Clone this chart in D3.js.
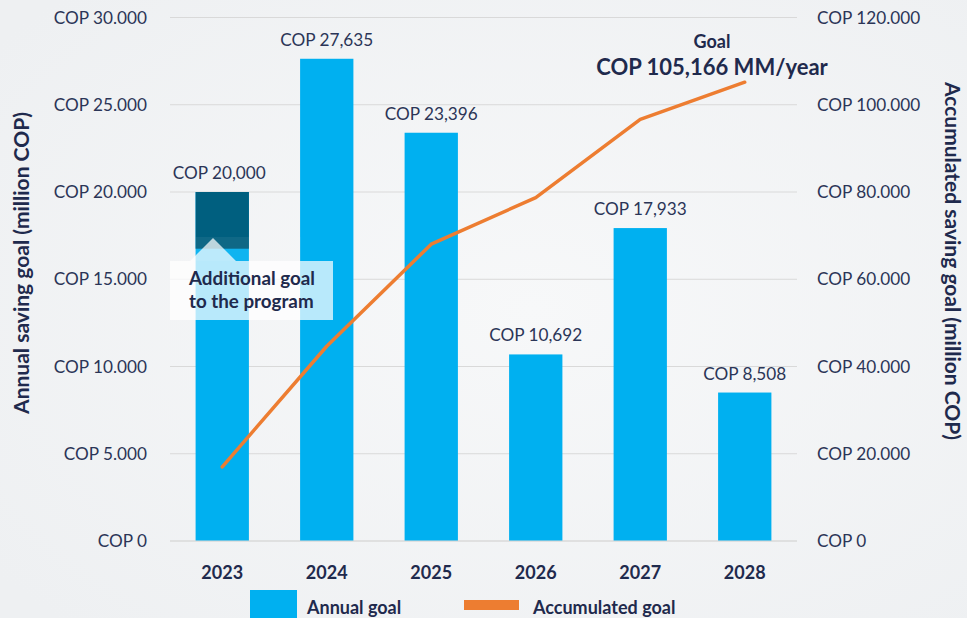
<!DOCTYPE html>
<html><head><meta charset="utf-8">
<script src="https://cdn.jsdelivr.net/npm/d3@7/dist/d3.min.js"></script>
<style>
html,body{margin:0;padding:0;background:#f2f3f5;}
svg{display:block;font-family:Lato, "Open Sans", sans-serif;}
</style></head><body>
<svg id="chart" width="967" height="618"></svg>
<script>
const years = ["2023","2024","2025","2026","2027","2028"];
const annualGoal = [20000, 27635, 23396, 10692, 17933, 8508];
const baseGoal2023 = 16750;
const accumulatedGoal = [17002, 44637, 68033, 78725, 96658, 105166];
const leftTicks = [0, 5000, 10000, 15000, 20000, 25000, 30000];
const rightTicks = [0, 20000, 40000, 60000, 80000, 100000, 120000];
const barLabels = ["COP 20,000","COP 27,635","COP 23,396","COP 10,692","COP 17,933","COP 8,508"];

const W = 967, H = 618;
const svg = d3.select("#chart");
const navy = "#1f2a4d", txt = "#2b3557";

// background
const defs = svg.append("defs");
const rg = defs.append("radialGradient").attr("id","bg").attr("cx","0.55").attr("cy","0.5").attr("r","0.7");
rg.append("stop").attr("offset","0").attr("stop-color","#f7f8f9");
rg.append("stop").attr("offset","1").attr("stop-color","#eef0f2");
svg.append("rect").attr("width",W).attr("height",H).attr("fill","url(#bg)");

const x = d3.scaleBand().domain(years).range([170, 797]).paddingInner(0.49).paddingOuter(0.245);
const yL = d3.scaleLinear().domain([0, 30000]).range([541, 17.5]);
const yR = d3.scaleLinear().domain([0, 120000]).range([541, 17.5]);

// gridlines
svg.append("g").selectAll("line").data(leftTicks).join("line")
  .attr("x1",170).attr("x2",797).attr("y1",d=>yL(d)).attr("y2",d=>yL(d))
  .attr("stroke","#d9d9d9").attr("stroke-width",1.2);

// axes labels
const fmt = d => "COP " + (d===0 ? "0" : d3.format(",")(d).replace(/,/g,"."));
svg.append("g").selectAll("text").data(leftTicks).join("text")
  .attr("x",147).attr("y",d=>yL(d)).attr("dy","0.35em").attr("text-anchor","end")
  .attr("font-size",17.2).attr("fill",txt).text(fmt);
svg.append("g").selectAll("text").data(rightTicks).join("text")
  .attr("x",817).attr("y",d=>yR(d)).attr("dy","0.35em").attr("text-anchor","start")
  .attr("font-size",17.2).attr("fill",txt).text(fmt);

// bars
svg.append("g").selectAll("rect").data(annualGoal).join("rect")
  .attr("x",(d,i)=>x(years[i])).attr("width",x.bandwidth())
  .attr("y",d=>yL(d)).attr("height",d=>yL(0)-yL(d)).attr("fill","#00b0f0");
// additional goal portion 2023
svg.append("rect").attr("x",x(years[0])).attr("width",x.bandwidth())
  .attr("y",yL(annualGoal[0])).attr("height",yL(baseGoal2023)-yL(annualGoal[0])).attr("fill","#005f7f");

// bar labels
svg.append("g").selectAll("text").data(annualGoal).join("text")
  .attr("x",(d,i)=>x(years[i])+x.bandwidth()/2 - (i===0?3:0)).attr("y",d=>yL(d)-13)
  .attr("text-anchor","middle").attr("font-size",17.2).attr("fill",txt).text((d,i)=>barLabels[i]);

// accumulated line
const line = d3.line().x((d,i)=>x(years[i])+x.bandwidth()/2).y(d=>yR(d));
svg.append("path").datum(accumulatedGoal).attr("d",line).attr("fill","none")
  .attr("stroke","#ed7d31").attr("stroke-width",3.5).attr("stroke-linecap","round").attr("stroke-linejoin","round");

// baseline
svg.append("line").attr("x1",170).attr("x2",797).attr("y1",yL(0)).attr("y2",yL(0)).attr("stroke","#d9d9d9").attr("stroke-width",1.2);

// callout
const cx0 = x(years[0]);
svg.append("rect").attr("x",cx0).attr("y",237).attr("width",105).attr("height",24).attr("fill","#ffffff").attr("opacity",0.06);
const callout = `M170,261 L190,261 L213,238 L236,261 L333,261 L333,320 L170,320 Z`;
svg.append("path").attr("d",callout).attr("fill","#ffffff").attr("opacity",0.72);
svg.append("text").attr("x",189).attr("y",285).attr("font-size",18.8).attr("font-weight","bold").attr("fill",navy).text("Additional goal");
svg.append("text").attr("x",189).attr("y",308).attr("font-size",18.8).attr("font-weight","bold").attr("fill",navy).text("to the program");

// goal annotation
svg.append("text").attr("x",712).attr("y",48).attr("text-anchor","middle").attr("font-size",18).attr("font-weight","bold").attr("fill",navy).text("Goal");
svg.append("text").attr("x",712).attr("y",75).attr("text-anchor","middle").attr("font-size",22).attr("font-weight","bold").attr("fill",navy).text("COP 105,166 MM/year");

// x labels
svg.append("g").selectAll("text").data(years).join("text")
  .attr("x",d=>x(d)+x.bandwidth()/2).attr("y",579).attr("text-anchor","middle")
  .attr("font-size",18).attr("font-weight","bold").attr("fill",navy).text(d=>d);

// axis titles
svg.append("text").attr("transform","translate(29,263) rotate(-90)").attr("text-anchor","middle")
  .attr("font-size",21).attr("font-weight","bold").attr("fill",navy).text("Annual saving goal (million COP)");
svg.append("text").attr("transform","translate(945,261) rotate(90)").attr("text-anchor","middle")
  .attr("font-size",21).attr("font-weight","bold").attr("fill",navy).text("Accumulated saving goal (million COP)");

// legend
svg.append("rect").attr("x",250).attr("y",590).attr("width",47).attr("height",30).attr("fill","#00b0f0");
svg.append("text").attr("x",307).attr("y",614).attr("font-size",18).attr("font-weight","bold").attr("fill",navy).text("Annual goal");
svg.append("rect").attr("x",464).attr("y",600).attr("width",55).attr("height",10).attr("fill","#ed7d31");
svg.append("text").attr("x",533).attr("y",614).attr("font-size",18).attr("font-weight","bold").attr("fill",navy).text("Accumulated goal");
</script></body></html>
